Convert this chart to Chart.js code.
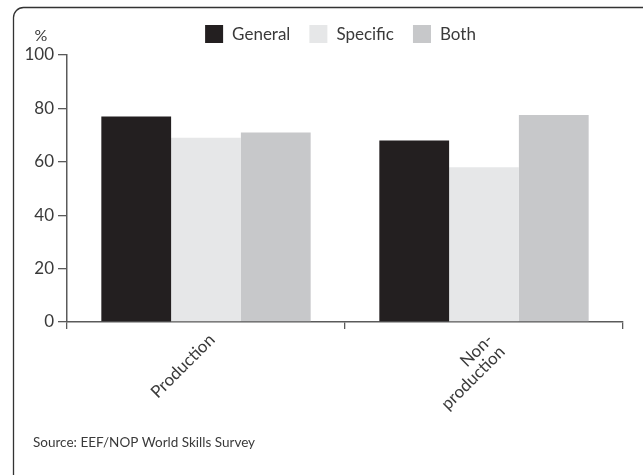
<!DOCTYPE html>
<html>
<head>
<meta charset="utf-8">
<script src="https://cdn.jsdelivr.net/npm/chart.js@4.4.1/dist/chart.umd.min.js"></script>
<style>
  html, body { margin: 0; padding: 0; background: #ffffff; }
  #wrap { position: relative; width: 643px; height: 475px; }
  canvas { display: block; }
</style>
</head>
<body>
<div id="wrap"><canvas id="c" width="643" height="475"></canvas></div>
<script>
// Share of employers (%) by workforce group and type of skill
const categories = [['Production'], ['Non-', 'production']];
const seriesNames = ['General', 'Specific', 'Both'];
const generalValues = [77, 68];
const specificValues = [69, 58];
const bothValues = [71, 77.5];
const seriesColors = ['#231f20', '#e6e7e8', '#c7c8ca'];
const yTicks = [0, 20, 40, 60, 80, 100];
const unitLabel = '%';
const sourceNote = 'Source: EEF/NOP World Skills Survey';

const FONT = 'Lato, "Open Sans", sans-serif';
const TEXT = '#3a3a3a';
const AXIS = '#5a5a5a';

// Rounded frame, unit label, source line and a compact legend row
const decorations = {
  id: 'decorations',
  beforeDraw(chart) {
    const ctx = chart.ctx;
    ctx.save();
    ctx.strokeStyle = '#333';
    ctx.lineWidth = 1.3;
    ctx.beginPath();
    ctx.roundRect(13.5, 7.5, 700, 478, 10);
    ctx.stroke();
    ctx.restore();
  },
  afterDraw(chart) {
    const ctx = chart.ctx;
    ctx.save();
    ctx.fillStyle = TEXT;
    ctx.font = '16px ' + FONT;
    ctx.textBaseline = 'middle';
    ctx.textAlign = 'center';
    ctx.fillText(unitLabel, 41, 36);
    ctx.textAlign = 'left';
    ctx.font = '13.5px ' + FONT;
    ctx.fillText(sourceNote, 33, 443);

    // legend
    const items = chart.data.datasets;
    ctx.font = '17px ' + FONT;
    const box = 18, gapText = 9, gapItem = 19;
    let total = 0;
    items.forEach((d, i) => {
      total += box + gapText + ctx.measureText(d.label).width + (i < items.length - 1 ? gapItem : 0);
    });
    let x = 340.5 - total / 2;
    const yc = 34;
    items.forEach((d) => {
      ctx.fillStyle = d.backgroundColor;
      ctx.fillRect(x, yc - box / 2, box, box);
      x += box + gapText;
      ctx.fillStyle = TEXT;
      ctx.textAlign = 'left';
      ctx.fillText(d.label, x, yc + 1);
      x += ctx.measureText(d.label).width + gapItem;
    });
    ctx.restore();
  }
};

new Chart(document.getElementById('c'), {
  type: 'bar',
  data: {
    labels: categories,
    datasets: [
      { label: seriesNames[0], data: generalValues, backgroundColor: seriesColors[0] },
      { label: seriesNames[1], data: specificValues, backgroundColor: seriesColors[1] },
      { label: seriesNames[2], data: bothValues, backgroundColor: seriesColors[2] }
    ]
  },
  options: {
    responsive: false,
    animation: false,
    devicePixelRatio: 1,
    layout: { padding: { top: 55, right: 20, bottom: 0, left: 0 } },
    datasets: { bar: { barPercentage: 1, categoryPercentage: 0.753, borderWidth: 0 } },
    plugins: { legend: { display: false }, tooltip: { enabled: false } },
    scales: {
      x: {
        afterFit(scale) { scale.height = 475 - 322; },
        grid: { drawOnChartArea: false, offset: true, tickLength: 7, color: AXIS, lineWidth: 1.3 },
        border: { color: AXIS, width: 1.5 },
        ticks: {
          color: TEXT, font: { family: FONT, size: 17, lineHeight: 1.0 }, minRotation: 45, maxRotation: 45,
          padding: 2, autoSkip: false, labelOffset: 6
        }
      },
      y: {
        min: 0, max: 100,
        afterFit(scale) { scale.width = 67; },
        afterBuildTicks(scale) { scale.ticks = yTicks.map(v => ({ value: v })); },
        grid: { drawOnChartArea: false, tickLength: 9, color: AXIS, lineWidth: 1.3 },
        border: { color: AXIS, width: 1.5 },
        ticks: { color: TEXT, font: { family: FONT, size: 17 }, padding: 4 }
      }
    }
  },
  plugins: [decorations]
});
</script>
</body>
</html>
